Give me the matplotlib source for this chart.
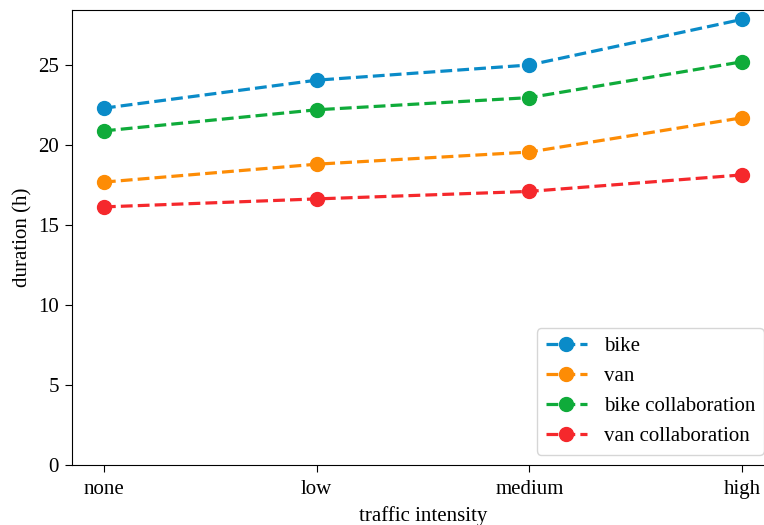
import matplotlib
matplotlib.use("Agg")
import matplotlib.pyplot as plt

plt.rcParams['font.family'] = ['Liberation Serif', 'DejaVu Serif']
plt.rcParams['font.size'] = 15

categories = ["none", "low", "medium", "high"]
bike = [22.3, 24.05, 25.0, 27.85]
van = [17.68, 18.8, 19.56, 21.7]
bike_collab = [20.88, 22.2, 22.96, 25.2]
van_collab = [16.13, 16.63, 17.1, 18.13]

series = [
    ("bike", bike, "#0a8bc8"),
    ("van", van, "#fd8c05"),
    ("bike collaboration", bike_collab, "#0fab3a"),
    ("van collaboration", van_collab, "#f5282c"),
]

fig = plt.figure(figsize=(7.64, 5.25), dpi=100)
ax = fig.add_axes([72/764, 60/525, (774-72)/764, (465-10)/525])

x = list(range(len(categories)))
for label, vals, color in series:
    ax.plot(x, vals, linestyle="--", marker="o", markersize=10,
            linewidth=2.3, color=color, label=label)

ax.set_xticks(x)
ax.set_xticklabels(categories)
ax.set_xlim(-0.15, 3.15)
ax.set_ylim(bottom=0)
ax.tick_params(axis="x", length=5, pad=6)
ax.tick_params(axis="y", length=5, pad=4.5)
ax.set_xlabel("traffic intensity", labelpad=5)
ax.set_ylabel("duration (h)", labelpad=4)
ax.legend(loc="lower right", fontsize=15)

fig.savefig("out.png", dpi=100)
